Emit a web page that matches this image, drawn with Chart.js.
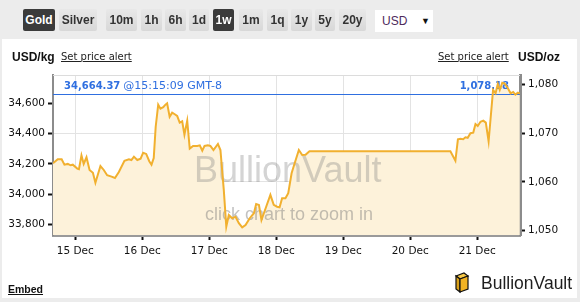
<!DOCTYPE html>
<html><head><meta charset="utf-8">
<script src="https://cdn.jsdelivr.net/npm/chart.js@4.4.1/dist/chart.umd.min.js"></script>
<style>
html,body{margin:0;padding:0;}
body{width:580px;height:302px;position:relative;overflow:hidden;background:#ececec;font-family:"Liberation Sans",Arial,sans-serif;}
#panel{position:absolute;left:2px;top:39px;width:575px;height:259px;background:#fff;}
#chart{position:absolute;left:0;top:0;z-index:2;}
.btn{position:absolute;top:9px;height:22px;line-height:22px;text-align:center;font-weight:bold;font-size:12px;color:#333;background:linear-gradient(#e8e8e8,#d8d8d8);border-radius:2px;z-index:3;}
.btn.on{background:#3b3b3b;color:#fff;}
#sel{position:absolute;left:375px;top:10px;width:58px;height:22px;background:#fff;z-index:3;font-size:12px;line-height:22px;}
#sel .t{position:absolute;left:7px;color:#4d2a5c;}
#sel .a{position:absolute;left:46px;font-size:9px;color:#111;}
.lab{position:absolute;z-index:3;top:50px;font-size:12px;line-height:14px;}
.b{font-weight:bold;color:#111;}
.lnk{font-family:"DejaVu Sans",sans-serif;font-size:10px;color:#222;text-decoration:underline;}
#embed{position:absolute;left:8px;top:283px;font-size:10.5px;font-weight:bold;text-decoration:underline;color:#111;z-index:3;}
#logo{position:absolute;left:452px;top:271px;z-index:3;}
#logotxt{position:absolute;left:481px;top:273px;font-size:17.5px;color:#1e1e1e;z-index:3;line-height:20px;}
</style></head>
<body>
<div id="panel"></div>
<div class="btn on" style="left:23px;width:32px">Gold</div>
<div class="btn" style="left:59px;width:38px">Silver</div>
<div class="btn" style="left:106px;width:31px">10m</div>
<div class="btn" style="left:141px;width:21px">1h</div>
<div class="btn" style="left:165px;width:21px">6h</div>
<div class="btn" style="left:189px;width:20px">1d</div>
<div class="btn on" style="left:213px;width:21px">1w</div>
<div class="btn" style="left:239px;width:24px">1m</div>
<div class="btn" style="left:267px;width:21px">1q</div>
<div class="btn" style="left:291px;width:21px">1y</div>
<div class="btn" style="left:315px;width:20px">5y</div>
<div class="btn" style="left:339px;width:27px">20y</div>
<div id="sel"><span class="t">USD</span><span class="a">&#9660;</span></div>
<div class="lab b" style="left:12px">USD/kg</div>
<div class="lab lnk" style="left:61px">Set price alert</div>
<div class="lab lnk" style="left:438px">Set price alert</div>
<div class="lab b" style="left:518px">USD/oz</div>
<canvas id="chart" width="580" height="302"></canvas>
<div id="embed">Embed</div>
<svg id="logo" width="18" height="24" viewBox="0 0 18 24">
<polygon points="4,5 12,2 16,5 8,8" fill="#f7c948" stroke="#111" stroke-width="1.2"/>
<polygon points="4,5 8,8 8,21 4,18" fill="#d9a019" stroke="#111" stroke-width="1.2"/>
<polygon points="8,8 16,5 16,18 8,21" fill="#f2b323" stroke="#111" stroke-width="1.2"/>
</svg>
<div id="logotxt">BullionVault</div>
<script>
// ---- data (hours since 15 Dec 00:00, GMT-8) ----
const hours = [-8,-6.3,-4.9,-3.9,-2.7,-1.7,-0.9,0.7,1.3,2.2,3.0,4.0,5.1,6.3,7.2,9.0,10.2,11.4,13.0,14.2,15.6,17.6,19.2,20.1,21.0,22.2,23.4,24.3,25.4,26.5,27.3,28.1,28.8,29.7,30.5,31.5,32.3,32.9,33.8,34.7,35.5,36.5,37.4,38.3,39.1,40.1,41.0,42.2,43.7,44.6,45.5,46.3,47.5,48.4,49.5,51.1,52.0,53.2,54.1,55.0,56.2,57.4,58.6,59.8,61.0,62.5,64.0,64.8,65.8,66.7,68.2,69.9,71.1,72.3,73.2,74.1,75.3,76.3,77.5,78.6,80.1,81.3,82.5,83.9,134.4,136.2,137.1,138.0,139.0,139.8,140.6,141.6,142.6,143.4,144.2,145.2,146.2,147.1,148.1,149.7,150.6,151.4,152.1,153.0,153.8,154.8,156.0,156.9,157.7,158.6,159.3];
const priceKg = [34203,34230,34230,34194,34199,34190,34194,34168,34164,34256,34199,34243,34159,34141,34075,34185,34159,34124,34115,34106,34146,34220,34230,34225,34247,34225,34234,34273,34265,34217,34194,34238,34445,34591,34564,34574,34591,34600,34511,34538,34529,34516,34472,34481,34392,34485,34300,34318,34318,34322,34287,34318,34322,34318,34291,34331,34291,34027,33784,33861,33840,33850,33807,33780,33795,33840,33873,33934,33928,33828,33906,33994,33928,33916,33912,33972,33972,34005,34137,34203,34291,34258,34260,34283,34283,34220,34362,34366,34362,34375,34372,34402,34406,34463,34450,34478,34485,34472,34349,34688,34666,34728,34688,34736,34732,34706,34666,34675,34657,34670,34664.37];
const dayHours = [0,24,48,72,96,120,144];
const dayLabels = ['15 Dec','16 Dec','17 Dec','18 Dec','19 Dec','20 Dec','21 Dec'];
const kgTicks = [33800,34000,34200,34400,34600];
const kgTickLabels = ['33,800','34,000','34,200','34,400','34,600'];
const ozTicks = [1050,1060,1070,1080];
const ozTickLabels = ['1,050','1,060','1,070','1,080'];
const ozGridTicks = [1060,1070];
const lastKgText = '34,664.37';
const lastOzText = '1,078.18';
const lastTimeText = '@15:15:09 GMT-8';
const lastKg = 34664.37;
const OZ_PER_KG = 32.1507;
const KG_MIN = 33729, KG_MAX = 34787;
const X_MIN = -8, X_MAX = 159.35;

const tickFont = {family:'DejaVu Sans', size:10.5};

const overlay = {
  id:'overlay',
  beforeDatasetsDraw(chart){
    const ctx = chart.ctx, a = chart.chartArea;
    ctx.save();
    ctx.strokeStyle = '#dcdcdc'; ctx.lineWidth = 1;
    ctx.beginPath(); ctx.moveTo(a.left, a.top + 0.5); ctx.lineTo(a.right, a.top + 0.5); ctx.stroke();
    ctx.fillStyle = 'rgba(120,120,120,0.32)';
    ctx.font = '36px "Liberation Sans"'; ctx.textBaseline = 'alphabetic'; ctx.textAlign = 'left';
    ctx.fillText('BullionVault', 194, 182);
    ctx.fillStyle = 'rgba(120,120,120,0.45)';
    ctx.font = '18px "Liberation Sans"';
    ctx.fillText('click chart to zoom in', 205, 220);
    const y = Math.round(chart.scales.yL.getPixelForValue(lastKg)) + 0.5;
    ctx.strokeStyle = '#2f6fe0'; ctx.lineWidth = 1;
    ctx.beginPath(); ctx.moveTo(a.left, y); ctx.lineTo(a.right, y); ctx.stroke();
    ctx.fillStyle = '#2f6fe0'; ctx.textBaseline = 'middle';
    ctx.font = 'bold 10px "DejaVu Sans"';
    ctx.fillText(lastKgText, 64, y - 8);
    const w = ctx.measureText(lastKgText).width;
    ctx.font = '11px "DejaVu Sans"';
    ctx.fillText(lastTimeText, 64 + w + 3, y - 8);
    ctx.font = 'bold 10px "DejaVu Sans"'; ctx.textAlign = 'right';
    ctx.fillText(lastOzText, 509, y - 8);
    ctx.restore();
  }
};

new Chart(document.getElementById('chart'), {
  type:'line',
  data:{datasets:[{
    data: hours.map((h,i)=>({x:h, y:priceKg[i]})),
    yAxisID:'yL', borderColor:'#f1b02f', borderWidth:2, backgroundColor:'#fdf2da',
    fill:'start', pointRadius:0, tension:0
  }]},
  options:{
    responsive:false, animation:false, events:[],
    layout:{padding:{top:75,bottom:37,left:0,right:0}},
    plugins:{legend:{display:false}, tooltip:{enabled:false}, filler:{drawTime:'beforeDatasetsDraw'}},
    scales:{
      x:{type:'linear', min:X_MIN, max:X_MAX,
        afterBuildTicks:s=>{s.ticks = dayHours.map(v=>({value:v}));},
        afterFit:s=>{s.height = 30;},
        ticks:{callback:v=>dayLabels[dayHours.indexOf(v)], font:tickFont, color:'#111', padding:5, maxRotation:0, autoSkip:false},
        grid:{color:'#e3e3e3', lineWidth:1, tickColor:'#111', tickLength:5, tickWidth:2},
        border:{color:'#9a9a9a', width:3}},
      yL:{type:'linear', position:'left', min:KG_MIN, max:KG_MAX,
        afterBuildTicks:s=>{s.ticks = kgTicks.map(v=>({value:v}));},
        afterFit:s=>{s.width = 53;},
        ticks:{callback:v=>kgTickLabels[kgTicks.indexOf(v)], font:tickFont, color:'#111', padding:3},
        grid:{drawOnChartArea:false, tickColor:'#111', tickLength:5, tickWidth:2},
        border:{color:'#8c8c8c', width:2}},
      yR:{type:'linear', position:'right', min:KG_MIN/OZ_PER_KG, max:KG_MAX/OZ_PER_KG,
        afterBuildTicks:s=>{s.ticks = ozTicks.map(v=>({value:v}));},
        afterFit:s=>{s.width = 60;},
        ticks:{callback:v=>ozTickLabels[ozTicks.indexOf(v)], font:tickFont, color:'#111', padding:3},
        grid:{color:c=>(c.tick && ozGridTicks.includes(c.tick.value)) ? '#e3e3e3' : 'rgba(0,0,0,0)', tickColor:'#111', tickLength:5, tickWidth:2},
        border:{color:'#8c8c8c', width:3}}
    }
  },
  plugins:[overlay]
});
</script>
</body></html>
